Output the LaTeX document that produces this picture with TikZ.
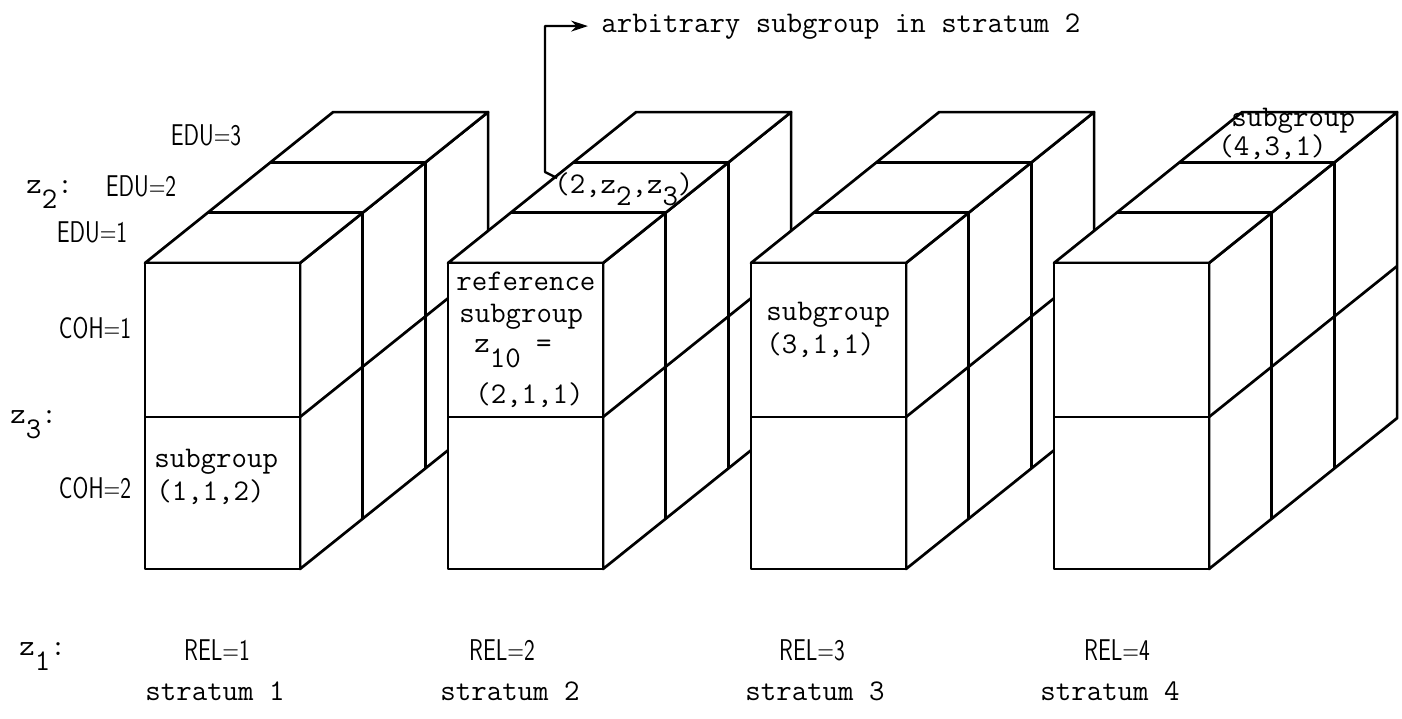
\documentclass[tikz,border=0pt]{standalone}
\usepackage{fontspec}
\usetikzlibrary{arrows.meta}
\newcommand{\zs}[1]{z\raisebox{-0.5em}{#1}}
\newcommand{\zt}[1]{z\raisebox{-0.4em}{#1}}
\newcommand{\nar}[1]{\scalebox{0.76}[1]{#1}}
\begin{document}
\begin{tikzpicture}[x=1pt,y=-1pt,line width=2.7pt,line join=round,
  tt/.style={font=\fontsize{30}{25}\selectfont\ttfamily,inner sep=0pt},
  sf/.style={font=\fontsize{30}{34}\selectfont\sffamily,inner sep=0pt},
  face/.style={draw=black,fill=white}]
\useasboundingbox (0,0) rectangle (1402,718);
\def\W{155}\def\T{263}\def\M{417}\def\B{569}\def\dx{62.7}\def\dy{-50.3}
\foreach \L in {145,448,751,1054}{
  % right face
  \draw[face] (\L+\W,\T) -- ++(3*\dx,3*\dy) -- ++(0,\B-\T) -- (\L+\W,\B) -- cycle;
  \foreach \k in {1,2}{
    \draw (\L+\W+\k*\dx,\T+\k*\dy) -- (\L+\W+\k*\dx,\B+\k*\dy);
  }
  \draw (\L+\W,\M) -- ++(3*\dx,3*\dy);
  % top face
  \draw[face] (\L,\T) -- (\L+\W,\T) -- ++(3*\dx,3*\dy) -- ++(-\W,0) -- cycle;
  \foreach \k in {1,2}{
    \draw (\L+\k*\dx,\T+\k*\dy) -- (\L+\W+\k*\dx,\T+\k*\dy);
  }
  % front face
  \draw[face] (\L,\T) rectangle (\L+\W,\B);
  \draw (\L,\M) -- (\L+\W,\M);
}
% left labels
\node[sf] (edu3) at (206,135) {\nar{EDU=3}};
\node[sf] (edu2) at (141,186) {\nar{EDU=2}};
\node[sf] (edu1) at (92,232) {\nar{EDU=1}};
\node[sf] (coh1) at (95,328) {\nar{COH=1}};
\node[sf] (coh2) at (95,488) {\nar{COH=2}};
\node[tt,anchor=base west] (z2) at (25,193) {\zs{2}:};
\node[tt,anchor=base west] (z3) at (9,423) {\zs{3}:};
\node[tt,anchor=base west] (z1) at (18,655) {\zs{1}:};
% bottom labels
\node[sf] (rel1) at (217,650) {\nar{REL=1}};
\node[sf] (rel2) at (502,650) {\nar{REL=2}};
\node[sf] (rel3) at (812,650) {\nar{REL=3}};
\node[sf] (rel4) at (1117,650) {\nar{REL=4}};
\node[tt,anchor=base] (st1) at (215,700) {stratum 1};
\node[tt,anchor=base] (st2) at (510,700) {stratum 2};
\node[tt,anchor=base] (st3) at (815,700) {stratum 3};
\node[tt,anchor=base] (st4) at (1110,700) {stratum 4};
% box texts
\node[tt,anchor=base west] (s1a) at (153,467) {subgroup};
\node[tt,anchor=base west] (s1b) at (155,500) {(1,1,2)};
\node[tt,anchor=base west] (r1) at (455,290) {reference};
\node[tt,anchor=base west] (r2) at (458,322) {subgroup};
\node[tt,anchor=base west] (r3) at (473,352) {\zs{10} =};
\node[tt,anchor=base west] (r4) at (474,403) {(2,1,1)};
\node[tt,anchor=base west] (s3a) at (765,320) {subgroup};
\node[tt,anchor=base west] (s3b) at (765,353) {(3,1,1)};
\node[tt,anchor=north west,align=left] (s4) at (1217,107) {\hspace*{13pt}subgroup\\(4,3,1)};
\node[tt,anchor=base west] (arbz) at (553,193) {(2,\zt{2},\zt{3})};
% arrow
\node[tt,anchor=base west] (arb) at (600,32) {arbitrary subgroup in stratum 2};
\coordinate (hook) at (557,178);
\draw[line width=2.3pt,shorten >=12pt,-{Stealth[length=17pt,width=11pt]}] (hook) -- ++(-12,-6) |- (arb.west);
\end{tikzpicture}
\end{document}
